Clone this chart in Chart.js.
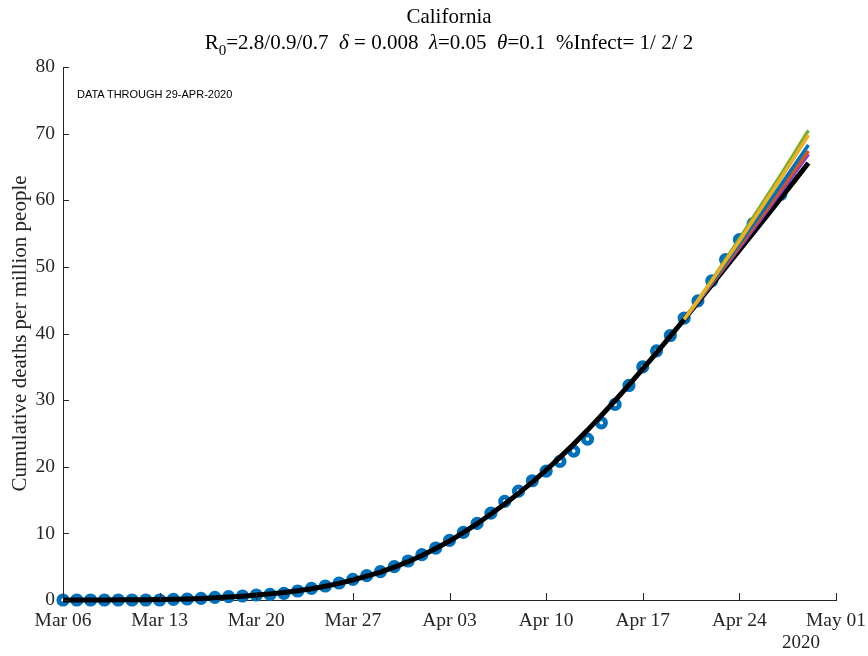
<!DOCTYPE html>
<html>
<head>
<meta charset="utf-8">
<script src="https://cdn.jsdelivr.net/npm/chart.js@4.4.1/dist/chart.umd.min.js"></script>
<style>
  body { margin: 0; background: #fff; }
  #wrap { position: relative; width: 868px; height: 656px; font-family: "Liberation Serif", serif; color: #000; }
  #c { position: absolute; left: 0; top: 0; }
  .lbl { position: absolute; white-space: nowrap; }
  #title { left: 0; width: 898px; top: 4px; text-align: center; font-size: 21px; }
  #sub { left: 0; width: 898px; top: 30px; text-align: center; font-size: 21px; }
  #sub sub { font-size: 15px; vertical-align: -6px; line-height: 0; }
  #note { left: 77px; top: 88px; font-family: "Liberation Sans", sans-serif; font-size: 11px; }
  #year { left: 782px; top: 631px; font-size: 19px; color: #262626; }
</style>
</head>
<body>
<div id="wrap">
  <canvas id="c" width="868" height="656"></canvas>
  <div class="lbl" id="title">California</div>
  <div class="lbl" id="sub">R<sub>0</sub>=2.8/0.9/0.7&nbsp;&nbsp;<i>δ</i> = 0.008&nbsp;&nbsp;<i>λ</i>=0.05&nbsp;&nbsp;<i>θ</i>=0.1&nbsp;&nbsp;%Infect= 1/ 2/ 2</div>
  <div class="lbl" id="note">DATA THROUGH 29-APR-2020</div>
  <div class="lbl" id="year">2020</div>
</div>
<script>
// x axis: days since Mar 06, tick every 7 days
const tickLabels = ['Mar 06', 'Mar 13', 'Mar 20', 'Mar 27', 'Apr 03', 'Apr 10', 'Apr 17', 'Apr 24', 'May 01'];

// observed cumulative deaths per million (Mar 06 .. Apr 27)
const observed = [
  0, 0, 0, 0, 0, 0, 0, 0, 0.1, 0.15,
  0.25, 0.4, 0.5, 0.6, 0.75, 0.85, 1.0, 1.35, 1.75, 2.1,
  2.55, 3.1, 3.65, 4.25, 5.0, 5.85, 6.8, 7.8, 8.95, 10.15,
  11.5, 13.05, 14.8, 16.35, 17.9, 19.35, 20.8, 22.35, 24.15, 26.6,
  29.35, 32.2, 35.0, 37.4, 39.7, 42.3, 44.9, 47.9, 51.1, 54.1,
  56.5, 58.8, 60.9
];

// model fit (Mar 06 .. Apr 29)
const modelBlack = [
  0, 0, 0, 0.01, 0.02, 0.03, 0.05, 0.07, 0.1, 0.15,
  0.22, 0.32, 0.44, 0.58, 0.74, 0.92, 1.12, 1.38, 1.7, 2.07,
  2.5, 3.0, 3.57, 4.2, 4.92, 5.75, 6.68, 7.72, 8.85, 10.1,
  11.45, 12.9, 14.4, 16.0, 17.7, 19.5, 21.4, 23.4, 25.5, 27.7,
  29.95, 32.3, 34.7, 37.1, 39.6, 42.1, 44.7, 47.3, 49.9, 52.5,
  55.1, 57.7, 60.3, 62.95, 65.6
];

// scenario projections, Apr 20 .. Apr 29 (day 45..54)
const scenStart = 45;
const scenGreen  = [42.15, 45.0, 48.0, 51.1, 54.2, 57.4, 60.6, 63.8, 67.1, 70.5];
const scenOrange = [42.15, 44.95, 47.9, 50.9, 53.9, 57.0, 60.1, 63.3, 66.5, 69.8];
const scenBlue   = [42.1, 44.85, 47.7, 50.6, 53.5, 56.4, 59.3, 62.3, 65.3, 68.3];
const scenRed    = [42.1, 44.8, 47.5, 50.3, 53.1, 55.9, 58.7, 61.6, 64.5, 67.4];
const scenPurple = [42.1, 44.75, 47.45, 50.15, 52.85, 55.6, 58.4, 61.2, 64.05, 66.9];

const AXIS = '#262626';

function pts(vals, start) {
  return vals.map((v, i) => ({ x: start + i, y: v }));
}

function scenLine(vals, color) {
  return {
    data: pts(vals, scenStart),
    borderColor: color,
    borderWidth: 3.5,
    pointRadius: 0,
    tension: 0,
    clip: false
  };
}

// MATLAB style inward ticks
const inwardTicks = {
  id: 'inwardTicks',
  afterDraw(chart) {
    const ctx = chart.ctx;
    const a = chart.chartArea;
    ctx.save();
    ctx.strokeStyle = AXIS;
    ctx.lineWidth = 1;
    chart.scales.x.ticks.forEach((t, i) => {
      const px = Math.round(chart.scales.x.getPixelForTick(i)) + 0.5;
      ctx.beginPath();
      ctx.moveTo(px, a.bottom);
      ctx.lineTo(px, a.bottom - 7);
      ctx.stroke();
    });
    chart.scales.y.ticks.forEach((t, i) => {
      const py = Math.round(chart.scales.y.getPixelForTick(i)) + 0.5;
      ctx.beginPath();
      ctx.moveTo(a.left, py);
      ctx.lineTo(a.left + 6, py);
      ctx.stroke();
    });
    ctx.restore();
  }
};

new Chart(document.getElementById('c'), {
  type: 'line',
  data: {
    datasets: [
      scenLine(scenOrange, '#EDB120'),
      scenLine(scenGreen, '#77AC30'),
      scenLine(scenBlue, '#0072BD'),
      scenLine(scenRed, '#D95319'),
      scenLine(scenPurple, '#7D3AD8'),
      {
        data: pts(modelBlack, 0),
        borderColor: '#000',
        borderWidth: 5,
        pointRadius: 0,
        tension: 0,
        clip: false
      },
      {
        data: pts(observed, 0),
        showLine: false,
        pointStyle: 'circle',
        pointRadius: 4.2,
        pointBorderWidth: 4.8,
        pointBorderColor: '#0072BD',
        pointBackgroundColor: '#fff',
        clip: false
      },
      {
        data: pts(observed, 0),
        showLine: false,
        pointRadius: 1.1,
        pointBorderWidth: 0,
        pointBackgroundColor: '#000',
        clip: false
      }
    ]
  },
  options: {
    responsive: false,
    animation: false,
    events: [],
    layout: { padding: { top: 67, right: 32, left: 0, bottom: 0 } },
    plugins: { legend: { display: false }, tooltip: { enabled: false } },
    scales: {
      x: {
        type: 'linear',
        min: 0,
        max: 56,
        afterFit: s => { s.height = 56; s.paddingLeft = 0; s.paddingRight = 0; },
        grid: { display: false, drawTicks: false },
        border: { display: true, color: AXIS, width: 1 },
        ticks: {
          stepSize: 7,
          padding: 9,
          maxRotation: 0,
          color: AXIS,
          font: { family: 'Liberation Serif', size: 19.5 },
          callback: v => tickLabels[v / 7]
        }
      },
      y: {
        min: 0,
        max: 80,
        afterFit: s => { s.width = 63; },
        grid: { display: false, drawTicks: false },
        border: { display: true, color: AXIS, width: 1 },
        ticks: {
          stepSize: 10,
          padding: 8,
          color: AXIS,
          font: { family: 'Liberation Serif', size: 19.5 }
        },
        title: {
          display: true,
          text: 'Cumulative deaths per million people',
          color: AXIS,
          padding: { top: 8, bottom: 4 },
          font: { family: 'Liberation Serif', size: 21 }
        }
      }
    }
  },
  plugins: [inwardTicks]
});
</script>
</body>
</html>
